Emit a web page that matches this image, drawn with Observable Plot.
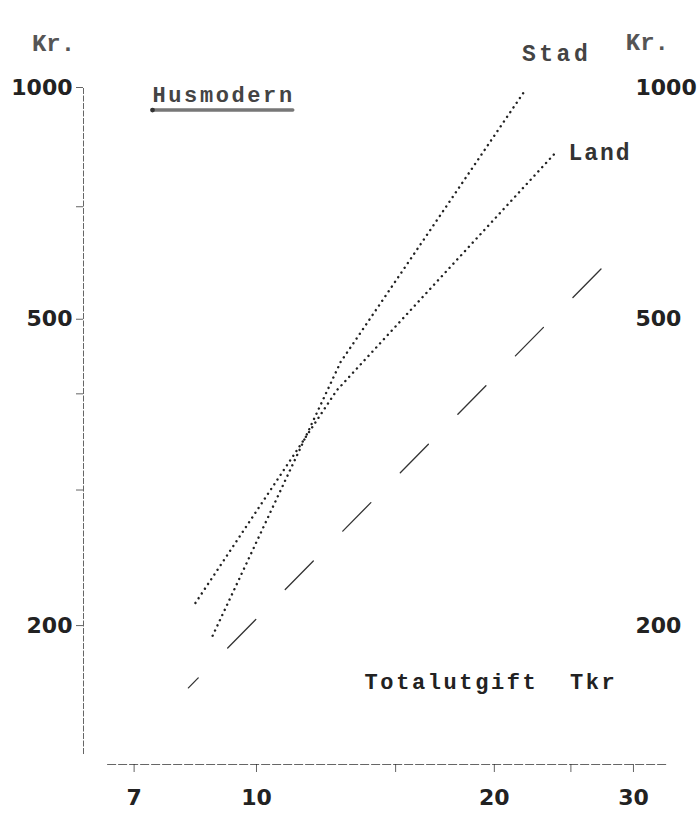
<!DOCTYPE html>
<html>
<head>
<meta charset="utf-8">
<script src="https://cdn.jsdelivr.net/npm/d3@7"></script>
<script src="https://cdn.jsdelivr.net/npm/@observablehq/plot@0.6"></script>
<style>
  html, body { margin: 0; padding: 0; background: #fff; }
</style>
</head>
<body>
<script>
// ---- data (log–log chart) ----
const title = "Husmodern";
const xTitle = "Totalutgift\u00a0\u00a0Tkr";
const yUnit = "Kr.";

const stadX = [8.80, 12.78, 21.78];
const stadY = [194, 440, 985];
const landX = [8.37, 12.63, 24.04];
const landY = [214, 404, 828];
const thirdX = [8.20, 27.42];     // unlabelled dash line
const thirdY = [166, 584];

const xTicks = [7, 10, 15, 20, 25, 30];
const xTickLabels = [7, 10, 20, 30];
const yTicks = [200, 300, 400, 500, 700, 1000];
const yTickLabels = [200, 500, 1000];

const xDomain = [6.04, 34];
const yDomain = [132, 1000];
const xAxisLineExtent = [6.48, 33.2];
const yAxisLineExtent = [136, 1000];

const toRows = (name, xs, ys) => xs.map((x, i) => ({series: name, x, y: ys[i]}));
const stad = toRows("Stad", stadX, stadY);
const land = toRows("Land", landX, landY);
const third = toRows("", thirdX, thirdY);

const mono = "Liberation Mono, DejaVu Sans Mono, monospace";
const num = "DejaVu Sans, sans-serif";
const ink = "#222";

const svg = Plot.plot({
  width: 700,
  height: 819,
  marginTop: 87,
  marginBottom: 55,
  marginLeft: 83,
  marginRight: 24.1,
  x: {type: "log", domain: xDomain},
  y: {type: "log", domain: yDomain},
  style: {background: "#fff", fontFamily: num, color: ink},
  marks: [
    // axis lines
    Plot.ruleX([xDomain[0]], {y1: yAxisLineExtent[0], y2: yAxisLineExtent[1], stroke: "#666", strokeWidth: 1, strokeDasharray: "6,1.5"}),
    Plot.ruleY([yDomain[0]], {x1: xAxisLineExtent[0], x2: xAxisLineExtent[1], stroke: "#666", strokeWidth: 1.2, strokeDasharray: "9,2"}),
    // left axis
    Plot.axisY({
      anchor: "left", ticks: yTicks,
      tickFormat: d => yTickLabels.includes(d) ? String(d) : "",
      tickSize: 7, tickPadding: 4, label: null,
      fontSize: 22, fontWeight: "bold", fontFamily: num, color: ink, strokeOpacity: 0.7
    }),
    // right-hand labels (no ticks)
    Plot.axisY({
      anchor: "right", ticks: yTickLabels, tickFormat: d => String(d),
      tickSize: 0, tickPadding: 0, dx: -40.9, label: null,
      fontSize: 22, fontWeight: "bold", fontFamily: num, color: ink
    }),
    // bottom axis
    Plot.axisX({
      ticks: xTicks,
      tickFormat: d => xTickLabels.includes(d) ? String(d) : "",
      tickSize: 8, tickPadding: 17, label: null,
      fontSize: 22, fontWeight: "bold", fontFamily: num, color: ink, strokeOpacity: 0.7
    }),
    // series
    Plot.line(stad, {x: "x", y: "y", stroke: "#222", strokeWidth: 2.4, strokeDasharray: "0.1,5.6", strokeLinecap: "round"}),
    Plot.line(land, {x: "x", y: "y", stroke: "#222", strokeWidth: 2.4, strokeDasharray: "0.1,5.6", strokeLinecap: "round"}),
    Plot.line(third, {x: "x", y: "y", stroke: "#333", strokeWidth: 1.3, strokeDasharray: "40,42", strokeDashoffset: 26}),
    // series labels at line ends
    Plot.text(stad.slice(-1), {x: "x", y: "y", text: "series", dx: 33, dy: -39, textAnchor: "middle",
      fontFamily: mono, fontWeight: "bold", fontSize: 23, fill: "#444"}),
    Plot.text(land.slice(-1), {x: "x", y: "y", text: "series", dx: 11, dy: 2, textAnchor: "start",
      fontFamily: mono, fontWeight: "bold", fontSize: 23, fill: "#333"}),
    // annotations
    Plot.text([title], {frameAnchor: "top-left", dx: 69, dy: -1, textAnchor: "start",
      fontFamily: mono, fontWeight: "bold", fontSize: 22, fill: "#444"}),
    Plot.text([yUnit], {frameAnchor: "top-left", dx: -30, dy: -54, textAnchor: "middle",
      fontFamily: mono, fontWeight: "bold", fontSize: 24, fill: "#555"}),
    Plot.text([yUnit], {frameAnchor: "top-right", dx: -29, dy: -55, textAnchor: "middle",
      fontFamily: mono, fontWeight: "bold", fontSize: 24, fill: "#555"}),
    Plot.text([xTitle], {frameAnchor: "bottom-right", dx: -59, dy: -76, textAnchor: "end",
      fontFamily: mono, fontWeight: "bold", fontSize: 22, fill: "#222"})
  ]
});
document.body.append(svg);

// letter spacing for the typewriter texts
d3.select(svg).selectAll("text").each(function () {
  const t = this.textContent;
  if (t === title || t === xTitle) this.style.letterSpacing = "2.6px";
  if (t === "Land") this.style.letterSpacing = "2px";
  if (t === "Stad") this.style.letterSpacing = "3.5px";
});

// brush-like underline below the title
const tnode = d3.select(svg).selectAll("text").filter(function () { return this.textContent === title; }).node();
if (tnode) {
  const b = tnode.getBBox();
  const m = tnode.getCTM();
  const x0 = b.x + m.e, x1 = b.x + b.width + m.e - 2, yy = b.y + b.height + m.f + 1;
  const g = d3.select(svg).append("g");
  g.append("line").attr("x1", x0).attr("x2", x1).attr("y1", yy).attr("y2", yy)
    .attr("stroke", "#777").attr("stroke-width", 3.5).attr("stroke-linecap", "round");
  g.append("circle").attr("cx", x0).attr("cy", yy).attr("r", 2.4).attr("fill", "#333");
}
</script>
</body>
</html>
